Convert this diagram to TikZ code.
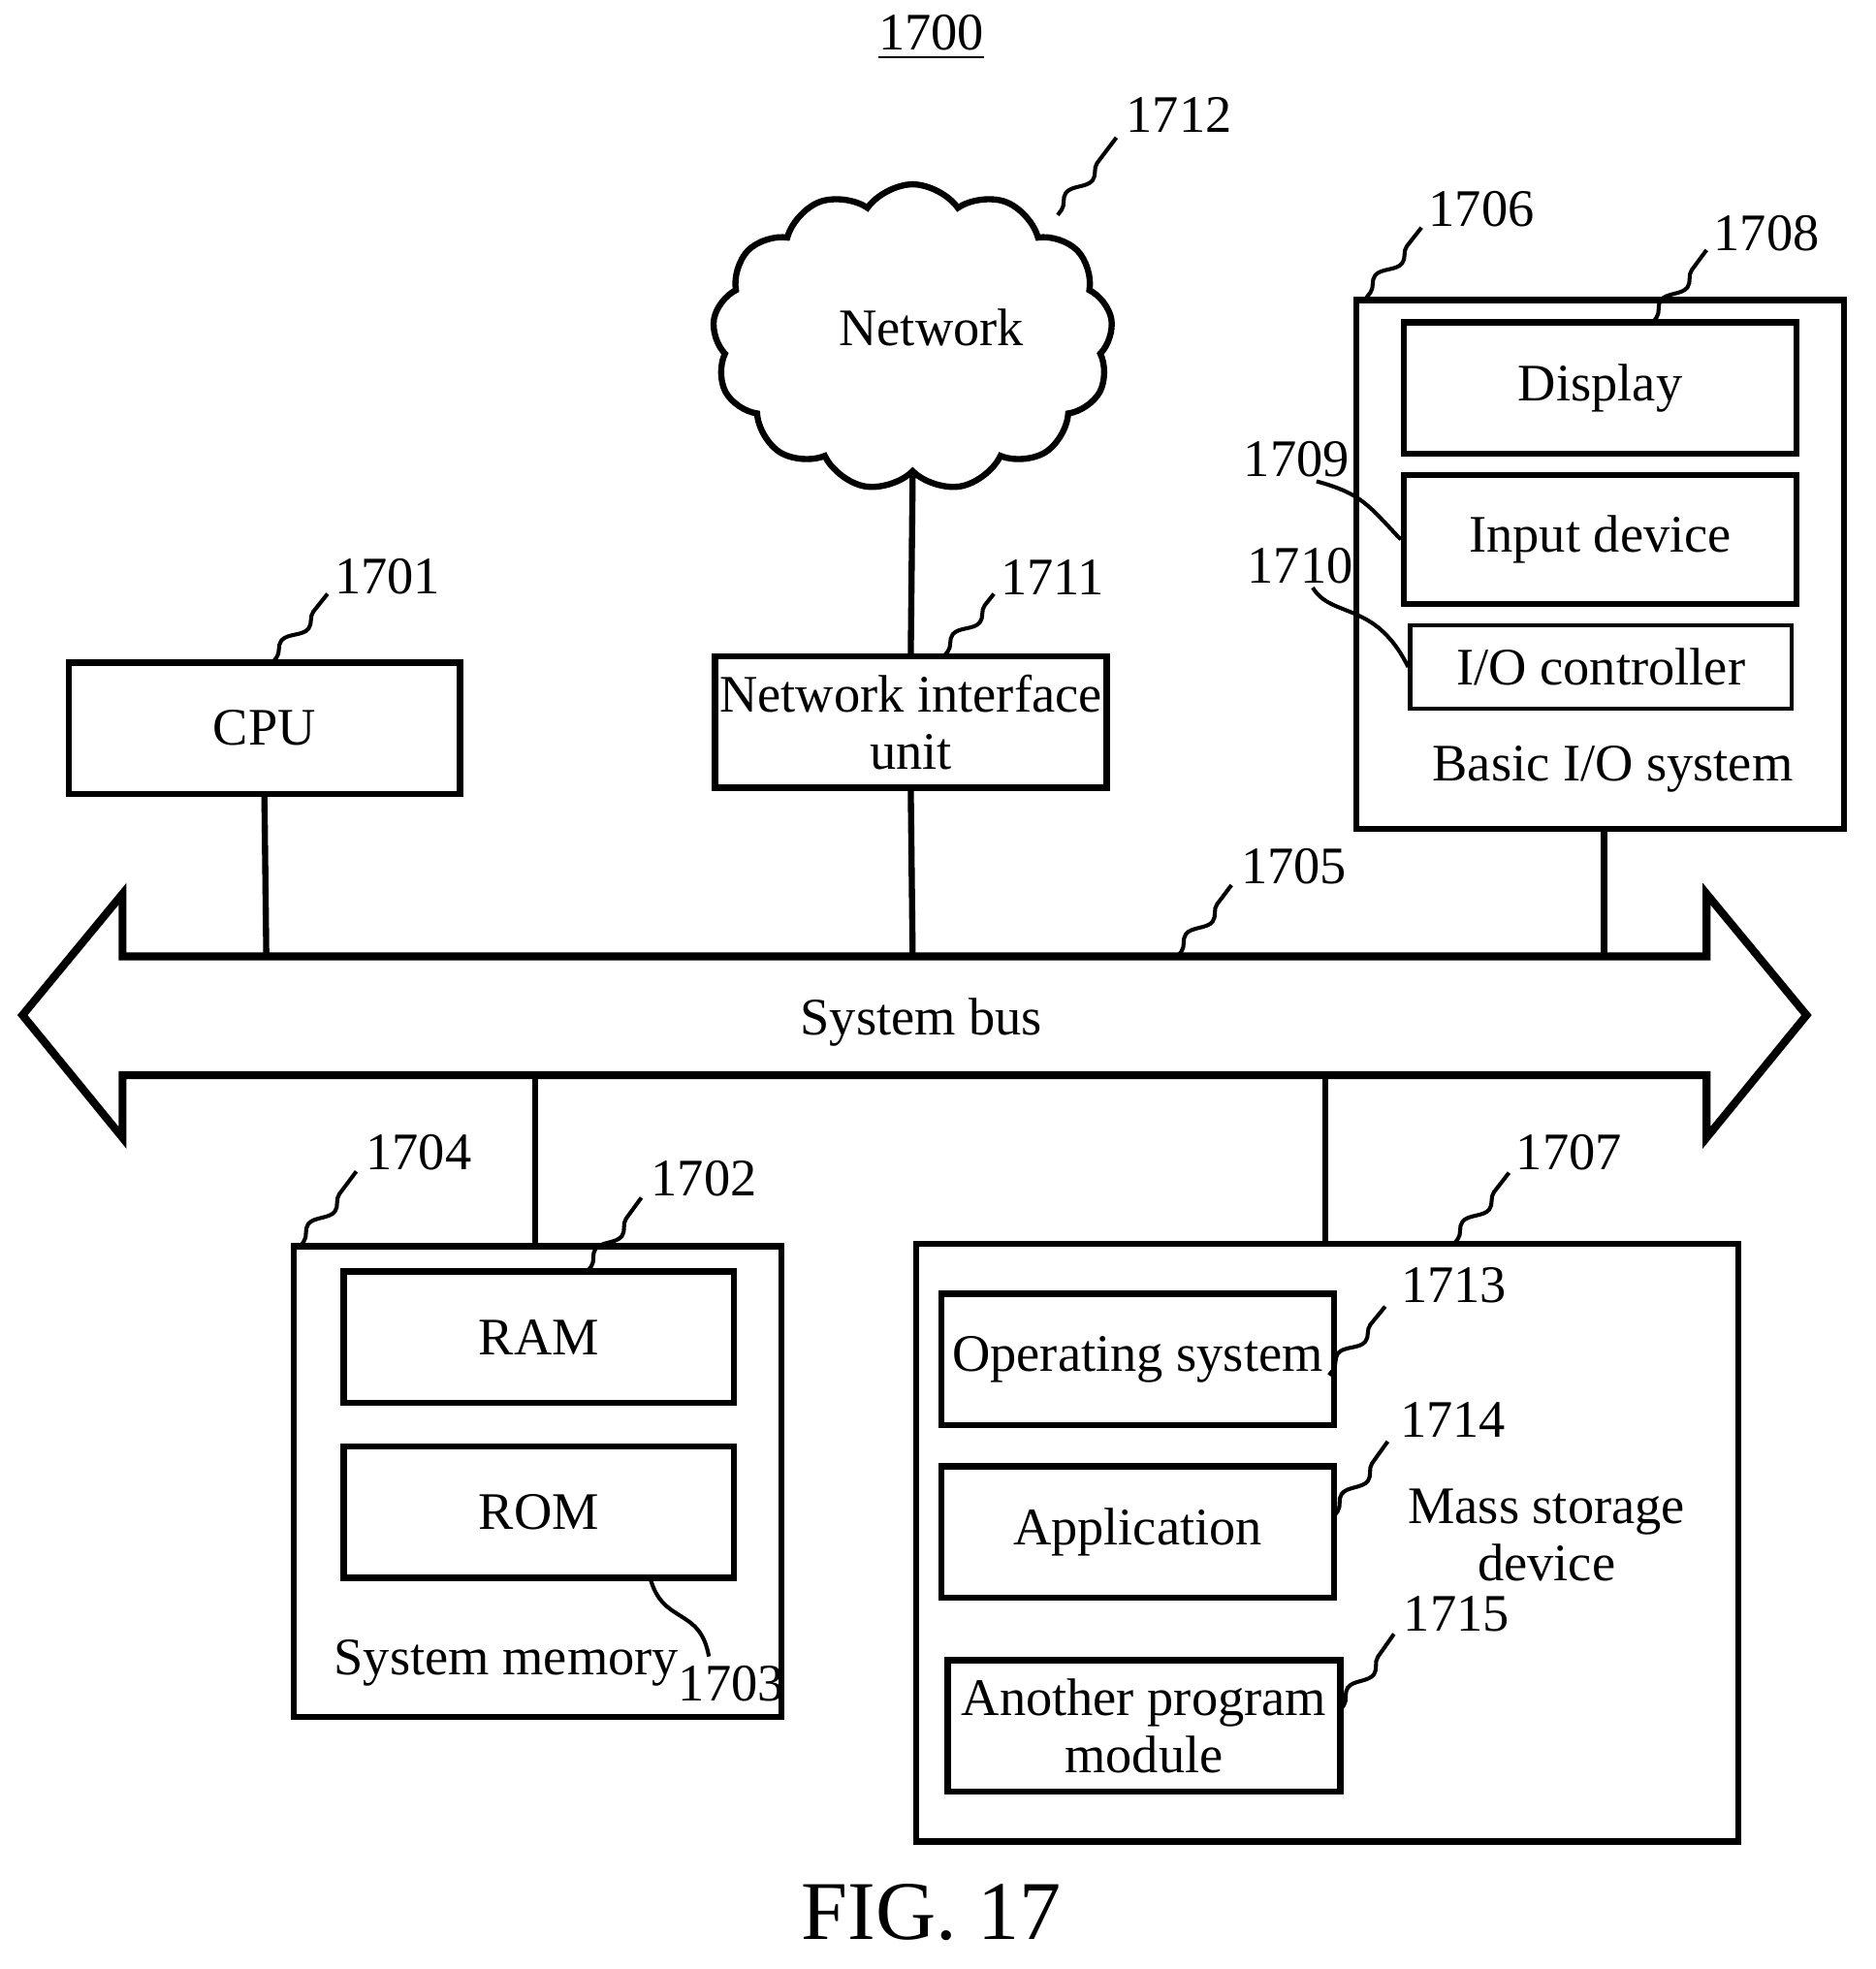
\documentclass[tikz,border=0pt]{standalone}
\usepackage{fontspec}
\setmainfont{Liberation Serif}
\usetikzlibrary{shapes.symbols,decorations.pathmorphing}
\tikzset{
  box/.style={draw,line width=1.4pt,align=center,inner sep=0pt},
  lead/.style={line width=0.9pt,decorate,decoration={snake,segment length=4.2mm,amplitude=0.55mm,pre length=0.5mm,post length=0.5mm}},
}
\begin{document}
\begin{tikzpicture}[x=0.01cm,y=-0.01cm,font=\fontsize{12}{13}\selectfont]
\useasboundingbox (0,0) rectangle (1500,1575);
\node (fignum) at (745,30) {\underline{1700}};
% network
\node[cloud,draw,line width=1.4pt,cloud puffs=13,cloud puff arc=110,aspect=1.3,minimum width=3.2cm,minimum height=2.45cm] (net) at (730,270) {};
\node at (745,262) {Network};
\node[box,minimum width=3.13cm,minimum height=1.05cm] (niu) at (728.5,577.5) {Network interface\\[0pt]unit};
\node[box,minimum width=3.13cm,minimum height=1.05cm] (cpu) at (211.5,582.5) {CPU};
% basic I/O system
\node[box,minimum width=3.9cm,minimum height=4.23cm] (bios) at (1280,451.5) {};
\node[box,minimum width=3.14cm,minimum height=1.05cm] (disp) at (1280,310.5) {Display};
\node[box,minimum width=3.14cm,minimum height=1.03cm] (inp) at (1280,431.5) {Input device};
\node[box,line width=0.9pt,minimum width=3.05cm,minimum height=0.67cm] (ioc) at (1280.5,533.5) {I/O controller};
\node at (1290,615) {Basic I/O system};
% system bus
\draw[line width=1.8pt] (98,765)--(1365,765)--(1365,715)--(1445,812)--(1365,910)--(1365,860)
  --(98,860)--(98,910)--(18,812)--(98,715)--cycle;
\node (bus) at (737,818) {System bus};
\coordinate (b1) at (213,765);
\coordinate (b2) at (730,765);
\coordinate (b3) at (1283,765);
\coordinate (b4) at (428,860);
\coordinate (b5) at (1060,860);
% system memory
\node[box,minimum width=3.9cm,minimum height=3.76cm] (mem) at (430,1185) {};
\node[box,minimum width=3.12cm,minimum height=1.05cm] (ram) at (431,1069.5) {RAM};
\node[box,minimum width=3.12cm,minimum height=1.05cm] (rom) at (431,1209.5) {ROM};
\node at (405,1330) {System memory};
% mass storage
\node[box,minimum width=6.57cm,minimum height=4.78cm] (mass) at (1061.5,1234) {};
\node[box,minimum width=3.14cm,minimum height=1.05cm] (os) at (910,1087.5) {Operating system};
\node[box,minimum width=3.14cm,minimum height=1.05cm] (app) at (910,1225.5) {Application};
\node[box,minimum width=3.14cm,minimum height=1.05cm] (apm) at (915,1380.5) {Another program\\[0pt]module};
\node[align=center] at (1237,1228) {Mass storage\\[0pt]device};
% links
\draw[line width=1.4pt] (net.south) -- (niu.north);
\draw[line width=1.4pt] (cpu.south) -- (b1);
\draw[line width=1.4pt] (niu.south) -- (b2);
\draw[line width=1.4pt] (bios.south-|b3) -- (b3);
\draw[line width=1.4pt] (b4) -- (mem.north-|b4);
\draw[line width=1.4pt] (b5) -- (mass.north-|b5);
% reference numerals
\foreach \sx/\sy/\ex/\ey/\t/\tx/\ty in {846/172/893/110/1712/943/92,1093/238/1137/182/1706/1185/167,
  1322/258/1365/200/1708/1413/187,218/530/262/475/1701/310/461,755/525/795/475/1711/842/462,
  942/765/985/708/1705/1035/693,240/997/285/937/1704/335/922,470/1017/513/958/1702/563/943,
  1163/995/1207/938/1707/1255/922,1063/1100/1108/1045/1713/1163/1028,
  1067/1213/1110/1153/1714/1162/1136,1072/1368/1115/1307/1715/1165/1291}{
  \node (r\t) at (\tx,\ty) {\t};
  \draw[lead] (\sx,\sy) -- (\ex,\ey);
}
\node (r1709) at (1037,367) {1709};
\draw[line width=0.9pt] (1053,385) .. controls (1090,395) and (1095,405) .. (inp.west);
\node (r1710) at (1040,453) {1710};
\draw[line width=0.9pt] (1050,470) .. controls (1065,495) and (1100,480) .. (ioc.west);
\node (r1703) at (585,1347) {1703};
\draw[line width=0.9pt] (520,1262) .. controls (530,1300) and (560,1285) .. (567,1325);
\node[font=\fontsize{19}{21}\selectfont] (fig) at (745,1530) {FIG. 17};
\end{tikzpicture}
\end{document}
